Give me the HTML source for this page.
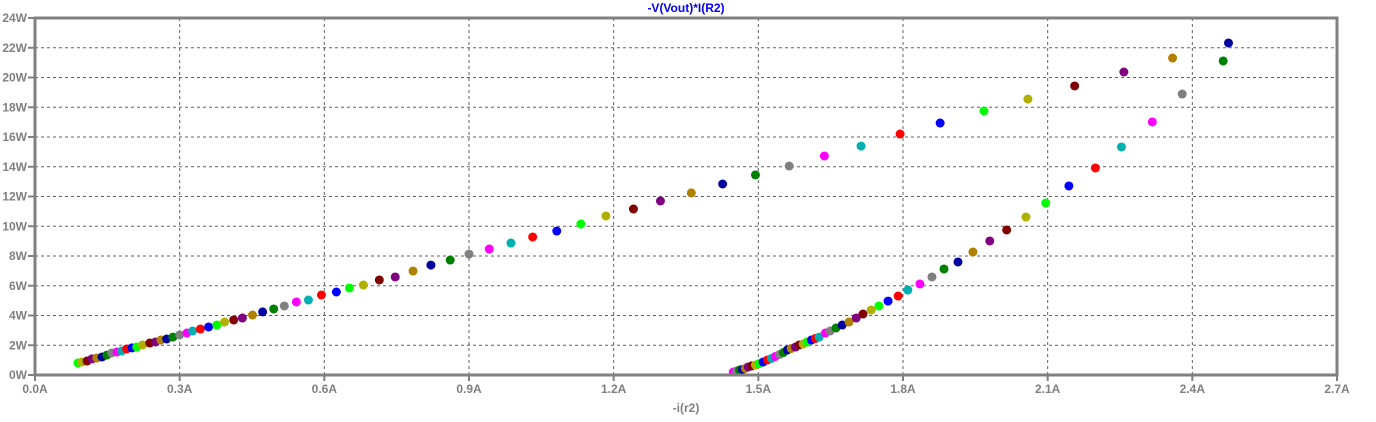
<!DOCTYPE html>
<html><head><meta charset="utf-8"><style>
html,body{margin:0;padding:0;background:#fff;}
svg{display:block;font-family:"Liberation Sans",Arial,sans-serif;}
</style></head><body>
<svg id="chart" width="1376" height="422" viewBox="0 0 1376 422" xmlns="http://www.w3.org/2000/svg">
<text x="686" y="12" text-anchor="middle" font-size="12" font-weight="bold" fill="#0000ff">-V(Vout)*I(R2)</text>
<text x="686" y="412" text-anchor="middle" font-size="12" font-weight="bold" fill="#808080">-i(r2)</text>
<g id="grid"></g>
<g id="marks"></g>
<g id="axes"></g>
</svg>
<script>
const xTicks = [0, 0.3, 0.6, 0.9, 1.2, 1.5, 1.8, 2.1, 2.4, 2.7];
const xTickLabels = ["0.0A","0.3A","0.6A","0.9A","1.2A","1.5A","1.8A","2.1A","2.4A","2.7A"];
const yTicks = [0, 2, 4, 6, 8, 10, 12, 14, 16, 18, 20, 22, 24];
const yTickLabels = ["0W","2W","4W","6W","8W","10W","12W","14W","16W","18W","20W","22W","24W"];
const branchACurrent = [0.089,0.097,0.108,0.118,0.128,0.139,0.149,0.159,0.170,0.180,0.190,0.201,0.211,0.223,0.238,0.250,0.261,0.273,0.286,0.300,0.315,0.327,0.343,0.360,0.377,0.393,0.412,0.430,0.451,0.472,0.495,0.517,0.542,0.567,0.594,0.625,0.652,0.681,0.714,0.747,0.784,0.821,0.861,0.900,0.942,0.987,1.032,1.082,1.132,1.184,1.241,1.297,1.361,1.426,1.494,1.564,1.637,1.713,1.794,1.877,1.968,2.059,2.156,2.258,2.359,2.475];
const branchAPower = [0.81,0.87,0.94,1.08,1.14,1.21,1.34,1.48,1.55,1.61,1.75,1.82,1.88,2.02,2.15,2.22,2.35,2.42,2.55,2.69,2.82,2.96,3.09,3.23,3.36,3.56,3.70,3.83,4.03,4.24,4.44,4.64,4.91,5.04,5.38,5.58,5.85,6.05,6.39,6.59,6.99,7.39,7.73,8.13,8.47,8.87,9.28,9.68,10.15,10.69,11.16,11.70,12.24,12.84,13.45,14.05,14.72,15.39,16.20,16.94,17.75,18.55,19.43,20.37,21.31,22.32];
const branchBCurrent = [1.448,1.455,1.461,1.467,1.473,1.479,1.486,1.494,1.502,1.510,1.519,1.527,1.535,1.544,1.552,1.560,1.568,1.577,1.585,1.593,1.601,1.610,1.618,1.626,1.639,1.649,1.661,1.674,1.688,1.703,1.717,1.734,1.750,1.769,1.790,1.810,1.835,1.860,1.885,1.914,1.945,1.980,2.015,2.055,2.096,2.144,2.199,2.253,2.317,2.379,2.464];
const branchBPower = [0.20,0.27,0.34,0.37,0.44,0.54,0.61,0.67,0.77,0.87,1.01,1.11,1.24,1.38,1.51,1.68,1.78,1.88,2.02,2.08,2.22,2.35,2.45,2.55,2.82,2.96,3.16,3.36,3.56,3.83,4.10,4.37,4.64,4.97,5.31,5.71,6.12,6.59,7.13,7.60,8.27,9.01,9.75,10.62,11.56,12.71,13.92,15.33,17.01,18.89,21.11];

const NS="http://www.w3.org/2000/svg";
const L=35,R=1337,T=18,B=375;
const xMax=2.7,yMax=24;
function xs(v){return L+(R-L)*v/xMax;}
function ys(v){return B-(B-T)*v/yMax;}
function mk(tag,attrs,parent){const e=document.createElementNS(NS,tag);for(const k in attrs)e.setAttribute(k,attrs[k]);parent.appendChild(e);return e;}
const grid=document.getElementById('grid'),marks=document.getElementById('marks'),axes=document.getElementById('axes');
xTicks.forEach((v,i)=>{
  if(i>0&&i<xTicks.length-1){const g=mk('line',{x1:xs(v),x2:xs(v),y1:T,y2:B,stroke:'#606060','stroke-width':1,'stroke-dasharray':'3,3'},grid);
  
  }
  const t=mk('line',{x1:xs(v),x2:xs(v),y1:B,y2:B+6,stroke:'#808080','stroke-width':2},axes);
  
  
  const lb=mk('text',{x:xs(v),y:B+18,'text-anchor':'middle','font-size':12,'font-weight':'bold',fill:'#808080'},axes);
  lb.textContent=xTickLabels[i];
  
  
});
yTicks.forEach((v,i)=>{
  if(i>0&&i<yTicks.length-1){const g=mk('line',{x1:L,x2:R,y1:ys(v),y2:ys(v),stroke:'#606060','stroke-width':1,'stroke-dasharray':'3,3'},grid);
  
  }
  const t=mk('line',{x1:L-7,x2:L,y1:ys(v),y2:ys(v),stroke:'#808080','stroke-width':2},axes);
  
  
  const lb=mk('text',{x:L-8,y:ys(v)+4,'text-anchor':'end','font-size':12,'font-weight':'bold',fill:'#808080'},axes);
  lb.textContent=yTickLabels[i];
  
  
});
const fr=mk('rect',{x:L,y:T,width:R-L,height:B-T,fill:'none',stroke:'#808080','stroke-width':3},axes);


const cycA=['#808080','#ff00ff','#00b0b0','#ff0000','#0000ff','#00ff00','#b0b000','#800000','#800080','#b08000','#0000a0','#008000'];
const cycB=['#00b0b0','#ff00ff','#808080','#008000','#0000a0','#b08000','#800080','#800000','#b0b000','#00ff00','#0000ff','#ff0000'];
branchACurrent.forEach((a,i)=>{
  const c=mk('circle',{cx:xs(a),cy:ys(branchAPower[i]),r:4.5,fill:cycA[(i+5)%12]},marks);
  
  
});
branchBCurrent.forEach((a,i)=>{
  const c=mk('circle',{cx:xs(a),cy:ys(branchBPower[i]),r:4.5,fill:cycB[(i+1)%12]},marks);
  
  
});
</script>
</body></html>
